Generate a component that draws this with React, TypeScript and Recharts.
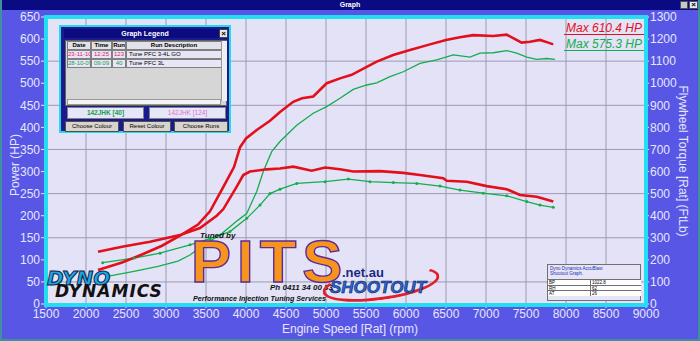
import React from "react";
import { LineChart, Line, XAxis, YAxis, CartesianGrid } from "recharts";

// tick labels
const rpmTicks = [1500, 2000, 2500, 3000, 3500, 4000, 4500, 5000, 5500, 6000, 6500, 7000, 7500, 8000, 8500, 9000];
const powerTicks = [0, 50, 100, 150, 200, 250, 300, 350, 400, 450, 500, 550, 600, 650];
const torqueTicks = [0, 100, 200, 300, 400, 500, 600, 700, 800, 900, 1000, 1100, 1200, 1300];

// run 123 (red) - power HP
const redPowerRpm = [2150, 2450, 2700, 2950, 3175, 3400, 3550, 3717, 3850, 3925, 4000, 4134, 4300, 4425, 4590, 4700, 4841, 5009, 5175, 5321, 5509, 5634, 5840, 6050, 6300, 6500, 6675, 6840, 7090, 7259, 7340, 7446, 7550, 7675, 7778, 7840];
const redPowerHp = [77, 94, 112, 132, 155, 180, 210, 265, 310, 355, 375, 394, 415, 435, 458, 466, 470, 500, 511, 519, 537, 549, 564, 575, 588, 598, 604, 609, 607, 610, 602, 592, 594, 598, 592, 588];

// run 123 (red) - torque ftlb
const redTorqueRpm = [2150, 2466, 2800, 3175, 3425, 3634, 3717, 3884, 3966, 4050, 4259, 4425, 4591, 4821, 4988, 5175, 5341, 5675, 5966, 6175, 6466, 6509, 6759, 7009, 7259, 7425, 7634, 7841];
const redTorqueFt = [237, 260, 282, 312, 344, 400, 430, 532, 584, 600, 610, 614, 622, 604, 618, 610, 600, 602, 594, 584, 570, 558, 554, 534, 520, 494, 486, 464];

// run 40 (green) - power HP
const greenPowerRpm = [2250, 2600, 2900, 3150, 3300, 3425, 3550, 3700, 3800, 3900, 4009, 4134, 4216, 4321, 4425, 4634, 4841, 5009, 5175, 5341, 5509, 5634, 5800, 5966, 6175, 6384, 6591, 6800, 6925, 7091, 7259, 7384, 7509, 7634, 7759, 7863];
const greenPowerHp = [62, 74, 85, 97, 111, 128, 142, 160, 175, 190, 205, 255, 300, 345, 368, 405, 432, 447, 466, 486, 496, 501, 515, 526, 545, 553, 564, 559, 568, 569, 574, 568, 559, 554, 556, 554];

// run 40 (green) - torque ftlb
const greenTorqueRpm = [2208, 2600, 2925, 3300, 3550, 3800, 4009, 4175, 4300, 4425, 4634, 4988, 5279, 5550, 5842, 6134, 6425, 6675, 6966, 7259, 7509, 7675, 7841];
const greenTorqueFt = [187, 208, 230, 268, 296, 328, 388, 448, 500, 520, 546, 554, 566, 554, 550, 546, 534, 516, 502, 490, 464, 448, 438];

const zip = (xs: number[], ys: number[]) => xs.map((rpm, i) => ({ rpm, v: ys[i] }));

const RED = "#e3101c";
const GREEN = "#12ae4c";
const AXIS_TXT = "#e6e6ff";
const FONT = "'Liberation Sans', Arial, sans-serif";

const abs = (l: number, t: number, w: number, h: number, extra: React.CSSProperties = {}): React.CSSProperties => ({
  position: "absolute",
  left: l,
  top: t,
  width: w,
  height: h,
  boxSizing: "border-box",
  ...extra,
});

function Cell({ l, t, w, h, text, color = "#000", bold = false, bg = "#e8e6f6", align = "center" as const }: any) {
  return (
    <div
      style={abs(l, t, w, h, {
        background: bg,
        border: "1px solid #808080",
        color,
        fontSize: 6,
        fontWeight: bold ? "bold" : "normal",
        textAlign: align,
        lineHeight: h - 2 + "px",
        whiteSpace: "nowrap",
        overflow: "hidden",
        paddingLeft: align === "left" ? 2 : 0,
      })}
    >
      {text}
    </div>
  );
}

function LegendWindow() {
  return (
    <div style={abs(59, 25, 172, 108, { background: "#1a1a90", border: "2px solid #22d8ea", fontFamily: FONT })}>
      <div style={abs(3, 2, 162, 9, { background: "#0c0c80", color: "#fff", fontSize: 7, fontWeight: "bold", textAlign: "center", lineHeight: "9px" })}>
        Graph Legend
      </div>
      <div style={abs(158, 2, 9, 9, { background: "#e8e8e8", border: "1px solid #404040", fontSize: 8, fontWeight: "bold", lineHeight: "7px", textAlign: "center" })}>
        ×
      </div>
      <div style={abs(4, 13, 162, 66, { background: "#d6d6d6", border: "1px solid #606060" })} />
      <Cell l={6} t={14} w={24} h={9} text="Date" bold bg="#e2e2ea" />
      <Cell l={30} t={14} w={21} h={9} text="Time" bold bg="#e2e2ea" />
      <Cell l={51} t={14} w={14} h={9} text="Run" bold bg="#e2e2ea" />
      <Cell l={65} t={14} w={96} h={9} text="Run Description" bold bg="#e2e2ea" />
      <Cell l={6} t={23} w={24} h={9} text="23-11-10" color="#e0206a" />
      <Cell l={30} t={23} w={21} h={9} text="12:25" color="#e0206a" />
      <Cell l={51} t={23} w={14} h={9} text="123" color="#e0206a" />
      <Cell l={65} t={23} w={96} h={9} text="Tune PFC 3-4L GO" align="left" />
      <Cell l={6} t={32} w={24} h={9} text="28-10-09" color="#10a050" />
      <Cell l={30} t={32} w={21} h={9} text="09:09" color="#10a050" />
      <Cell l={51} t={32} w={14} h={9} text="40" color="#10a050" />
      <Cell l={65} t={32} w={96} h={9} text="Tune PFC 3L" align="left" />
      <div style={abs(160, 14, 6, 60, { background: "#efefef", borderLeft: "1px solid #999" })} />
      <div style={abs(6, 72, 154, 6, { background: "#f4f4f4", border: "1px solid #999" })} />
      <div style={abs(6, 80, 77, 12, { background: "#e6e6f6", border: "1px solid #808080", color: "#10a050", fontSize: 6.5, fontWeight: "bold", textAlign: "center", lineHeight: "10px" })}>
        142JHK [40]
      </div>
      <div style={abs(88, 80, 77, 12, { background: "#e6e6f6", border: "1px solid #808080", color: "#e070c8", fontSize: 6.5, textAlign: "center", lineHeight: "10px" })}>
        142JHK [124]
      </div>
      <div style={abs(4, 94, 54, 11, { background: "#d8d4cc", border: "1px solid #505050", fontSize: 6, textAlign: "center", lineHeight: "9px" })}>
        Choose Colour
      </div>
      <div style={abs(62, 94, 48, 11, { background: "#d8d4cc", border: "1px solid #505050", fontSize: 6, textAlign: "center", lineHeight: "9px" })}>
        Reset Colour
      </div>
      <div style={abs(113, 94, 54, 11, { background: "#d8d4cc", border: "1px solid #505050", fontSize: 6, textAlign: "center", lineHeight: "9px" })}>
        Choose Runs
      </div>
    </div>
  );
}

function InfoBox() {
  const rows = [
    ["BP", "1022.8"],
    ["RH", "62"],
    ["AT", "26"],
  ];
  return (
    <div style={abs(547, 264, 94, 37, { background: "#e6e4f6", border: "1px solid #707070", fontFamily: FONT })}>
      <div style={abs(2, 1, 60, 12, { fontSize: 4.5, color: "#2030b0", lineHeight: "5px" })}>
        Dyno Dynamics AccuBlast Shootout Graph.
      </div>
      {rows.map((r, i) => (
        <React.Fragment key={r[0]}>
          <div style={abs(0, 14 + i * 5.5, 42, 6, { borderTop: "1px solid #707070", fontSize: 4.5, paddingLeft: 1, lineHeight: "5px", background: "#fff" })}>{r[0]}</div>
          <div style={abs(42, 14 + i * 5.5, 51, 6, { borderTop: "1px solid #707070", borderLeft: "1px solid #707070", fontSize: 4.5, paddingLeft: 1, lineHeight: "5px", background: "#fff" })}>{r[1]}</div>
        </React.Fragment>
      ))}
    </div>
  );
}

export default function App() {
  return (
    <div style={{ position: "absolute", left: 0, top: 0, width: 700, height: 341, background: "#5856e4", overflow: "hidden", fontFamily: FONT }}>
      <LineChart width={700} height={341} margin={{ top: 17, right: 0, bottom: 0, left: 0 }}>
        <CartesianGrid yAxisId="pow" xAxisId="rpm" fill="#e4e2f6" stroke="#9c9ab4" strokeWidth={1} />
        <XAxis
          xAxisId="rpm"
          dataKey="rpm"
          type="number"
          domain={[1500, 9000]}
          ticks={rpmTicks}
          height={37}
          axisLine={false}
          tickSize={4}
          tickMargin={1}
          tickLine={{ stroke: AXIS_TXT }}
          tick={{ fill: AXIS_TXT, fontSize: 12, fontFamily: FONT }}
          allowDataOverflow
        />
        <YAxis
          yAxisId="pow"
          orientation="left"
          domain={[0, 650]}
          ticks={powerTicks}
          width={46}
          axisLine={false}
          tickSize={5}
          tickMargin={1}
          tickLine={{ stroke: AXIS_TXT }}
          tick={{ fill: AXIS_TXT, fontSize: 12, fontFamily: FONT }}
        />
        <YAxis
          yAxisId="tq"
          orientation="right"
          domain={[0, 1300]}
          ticks={torqueTicks}
          width={54}
          axisLine={false}
          tickSize={3}
          tickMargin={1}
          tickLine={{ stroke: AXIS_TXT }}
          tick={{ fill: AXIS_TXT, fontSize: 12, fontFamily: FONT, textAnchor: "start" }}
        />
        <Line xAxisId="rpm" yAxisId="tq" data={zip(greenTorqueRpm, greenTorqueFt)} dataKey="v" stroke={GREEN} strokeWidth={1.3} dot={{ r: 1.5, fill: GREEN, stroke: "none" }} isAnimationActive={false} />
        <Line xAxisId="rpm" yAxisId="pow" data={zip(greenPowerRpm, greenPowerHp)} dataKey="v" stroke={GREEN} strokeWidth={1.3} dot={false} isAnimationActive={false} />
        <Line xAxisId="rpm" yAxisId="tq" data={zip(redTorqueRpm, redTorqueFt)} dataKey="v" stroke={RED} strokeWidth={2.6} dot={false} isAnimationActive={false} />
        <Line xAxisId="rpm" yAxisId="pow" data={zip(redPowerRpm, redPowerHp)} dataKey="v" stroke={RED} strokeWidth={2.6} dot={false} isAnimationActive={false} />
      </LineChart>

      {/* plot frame */}
      <div style={abs(44, 15, 604, 292, { border: "4px solid #22def0", pointerEvents: "none" })} />

      {/* title bar */}
      <div style={abs(0, 0, 700, 10, { background: "#0a0a82", color: "#fff", fontSize: 7, fontWeight: "bold", textAlign: "center", lineHeight: "10px" })}>Graph</div>
      <div style={abs(680, 1, 8, 8, { background: "#c8c8d0", border: "1px solid #505050" })} />
      <div style={abs(689, 1, 9, 8, { background: "#e8e8e8", border: "1px solid #505050", fontSize: 8, fontWeight: "bold", lineHeight: "6px", textAlign: "center" })}>×</div>
      <div style={abs(0, 0, 700, 341, { border: "2px solid #3f8fa0", borderTop: "none", pointerEvents: "none" })} />

      {/* axis titles */}
      <div style={abs(-35, 158, 100, 14, { color: AXIS_TXT, fontSize: 12, textAlign: "center", transform: "rotate(-90deg)" })}>Power (HP)</div>
      <div style={abs(603, 154, 160, 14, { color: AXIS_TXT, fontSize: 12, textAlign: "center", transform: "rotate(90deg)" })}>Flywheel Torque [Rat] (FtLb)</div>
      <div style={abs(250, 322, 200, 14, { color: AXIS_TXT, fontSize: 12, textAlign: "center" })}>Engine Speed [Rat] (rpm)</div>

      <LegendWindow />

      {/* max labels */}
      <div style={abs(564, 22, 80, 13, { color: RED, fontSize: 12, fontStyle: "italic", borderBottom: "1px solid " + RED, lineHeight: "13px", whiteSpace: "nowrap", paddingLeft: 2 })}>Max 610.4 HP</div>
      <div style={abs(564, 38, 80, 13, { color: GREEN, fontSize: 12, fontStyle: "italic", borderBottom: "1px solid " + GREEN, lineHeight: "13px", whiteSpace: "nowrap", paddingLeft: 2 })}>Max 575.3 HP</div>

      {/* Dyno Dynamics logo */}
      <div style={abs(47, 268, 80, 20, { color: "#1aa6e6", fontSize: 20, fontWeight: "bold", fontStyle: "italic", fontFamily: "'DejaVu Sans', sans-serif", WebkitTextStroke: "1px #102040", lineHeight: "20px" })}>DYNO</div>
      <div style={abs(55, 282, 120, 20, { color: "#111", fontSize: 17, fontWeight: "bold", fontStyle: "italic", fontFamily: "'DejaVu Sans', sans-serif", lineHeight: "18px", letterSpacing: 1 })}>DYNAMICS</div>

      {/* PITS logo */}
      <div style={abs(200, 231, 60, 10, { color: "#111", fontSize: 8, fontWeight: "bold", fontStyle: "italic", lineHeight: "10px" })}>Tuned by</div>
      <div style={abs(191, 234, 170, 56, { color: "#f7941d", fontSize: 60, fontWeight: "bold", fontFamily: FONT, WebkitTextStroke: "1.4px #5a2a9a", lineHeight: "56px", letterSpacing: 6 })}>PITS</div>
      <div style={abs(270, 283, 80, 10, { color: "#111", fontSize: 8, fontWeight: "bold", fontStyle: "italic", lineHeight: "10px", whiteSpace: "nowrap" })}>Ph 0411 34 00 33</div>
      <div style={abs(193, 294, 160, 10, { color: "#111", fontSize: 7.2, fontWeight: "bold", fontStyle: "italic", lineHeight: "10px", whiteSpace: "nowrap" })}>Performance Injection Tuning Services</div>

      {/* Shootout logo */}
      <div style={abs(322, 268, 118, 32, { border: "3px solid #e0202a", borderRadius: "50%", borderTopColor: "transparent", transform: "rotate(-8deg)" })} />
      <div style={abs(342, 266, 50, 14, { color: "#1a2a80", fontSize: 13, fontWeight: "bold", lineHeight: "14px" })}>.net.au</div>
      <div style={abs(330, 278, 100, 20, { color: "#2868d0", fontSize: 17, fontWeight: "bold", fontStyle: "italic", WebkitTextStroke: "0.6px #0a1a60", lineHeight: "20px", whiteSpace: "nowrap" })}>SHOOTOUT</div>

      <InfoBox />
    </div>
  );
}
